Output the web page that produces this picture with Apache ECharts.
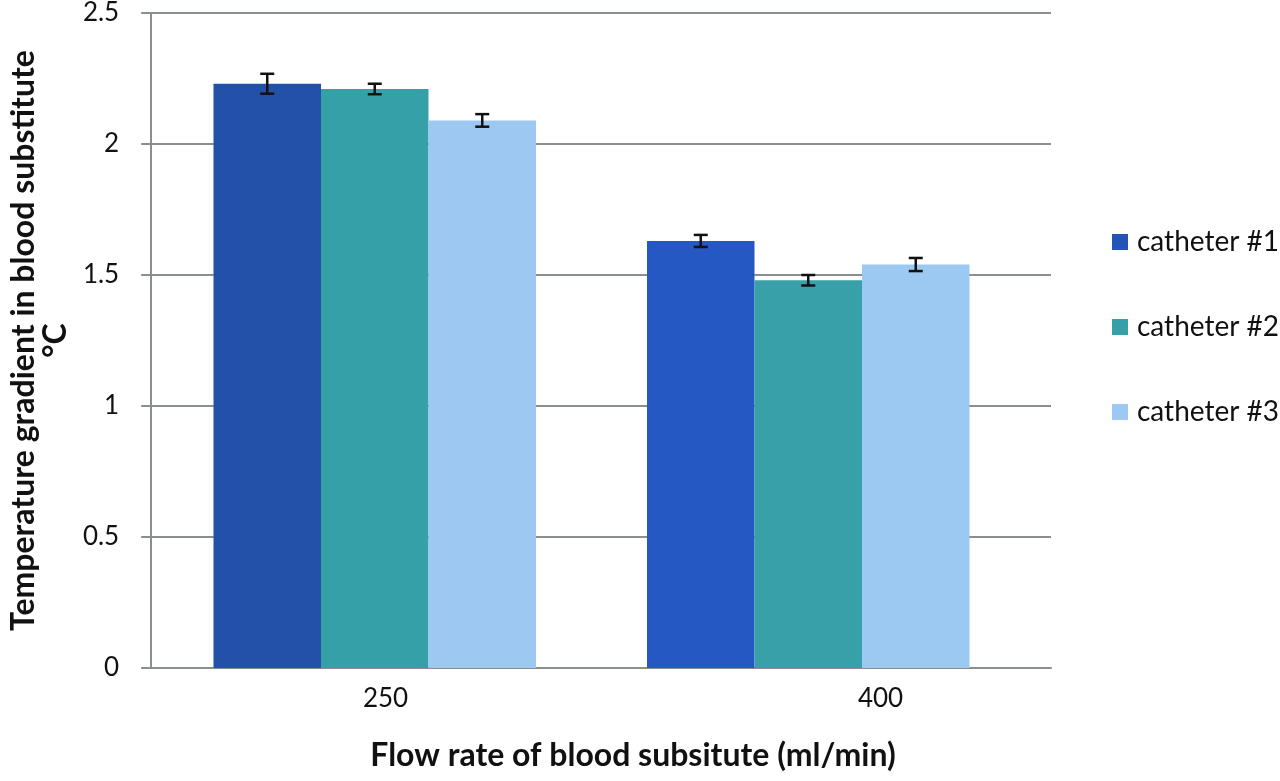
<!DOCTYPE html>
<html>
<head>
<meta charset="utf-8">
<script src="https://cdn.jsdelivr.net/npm/echarts@6/dist/echarts.min.js"></script>
<style>
html,body{margin:0;padding:0;background:#fff;}
#chart{width:1280px;height:781px;}
</style>
</head>
<body>
<div id="chart"></div>
<script>
// ---- data ----
var categories = ['250', '400'];
var seriesNames = ['catheter #1', 'catheter #2', 'catheter #3'];
var catheter1 = [2.23, 1.63];
var catheter2 = [2.21, 1.48];
var catheter3 = [2.09, 1.54];
var catheter1Err = [0.038, 0.023];
var catheter2Err = [0.020, 0.020];
var catheter3Err = [0.024, 0.025];
var yTicks = { min: 0, max: 2.5, interval: 0.5 };

// ---- style ----
var FONT = 'Lato';
var TXT = '#111111';
var GRAY = '#8a8e8e';
var barColors = [
  ['#2350a9', '#2558c3'],
  ['#36a0a8', '#37a0a9'],
  ['#9dc8f1', '#9cc9f2']
];
var legendColors = ['#2454b6', '#36a0a8', '#9dc8f1'];
var BAR_W = 107.5;

var values = [catheter1, catheter2, catheter3];
var errs = [catheter1Err, catheter2Err, catheter3Err];

var chart = echarts.init(document.getElementById('chart'), null, { renderer: 'canvas' });

var series = [];
values.forEach(function (vals, s) {
  series.push({
    name: seriesNames[s],
    type: 'bar',
    xAxisIndex: 1,
    yAxisIndex: 1,
    barWidth: BAR_W,
    barGap: 0,
    color: legendColors[s],
    data: vals.map(function (v, i) {
      return { value: v, itemStyle: { color: barColors[s][i] } };
    }),
    z: 2
  });
});
values.forEach(function (vals, s) {
  series.push({
    type: 'custom',
    xAxisIndex: 1,
    yAxisIndex: 1,
    z: 5,
    silent: true,
    data: vals.map(function (v, i) { return [i, v, errs[s][i]]; }),
    renderItem: (function (si) {
      return function (params, api) {
        var cat = api.value(0), v = api.value(1), e = api.value(2);
        var c = api.coord([cat, v]);
        var x = c[0] + (si - 1) * BAR_W;
        var yTop = api.coord([cat, v + e])[1];
        var yBot = api.coord([cat, v - e])[1];
        var hw = 7;
        var st = { stroke: '#111', lineWidth: 2.5 };
        return {
          type: 'group',
          children: [
            { type: 'line', shape: { x1: x, y1: yTop, x2: x, y2: yBot }, style: st },
            { type: 'line', shape: { x1: x - hw, y1: yTop, x2: x + hw, y2: yTop }, style: st },
            { type: 'line', shape: { x1: x - hw, y1: yBot, x2: x + hw, y2: yBot }, style: st }
          ]
        };
      };
    })(s)
  });
});

var option = {
  animation: false,
  backgroundColor: '#ffffff',
  textStyle: { fontFamily: FONT },
  grid: [
    { left: 132, right: 229, top: 13, bottom: 113 },
    { left: 158, right: 255, top: 13, bottom: 113 },
    { left: 138, right: 152, top: 13, bottom: 113 }
  ],
  legend: {
    orient: 'vertical',
    left: 1107,
    top: 222,
    itemWidth: 16,
    itemHeight: 16,
    itemGap: 55,
    icon: 'rect',
    data: seriesNames.map(function (n, i) {
      return { name: n, itemStyle: { color: legendColors[i] } };
    }),
    textStyle: { fontFamily: FONT, fontSize: 28, color: TXT, lineHeight: 30, padding: [0, 0, 0, 4] }
  },
  xAxis: [
    {
      gridIndex: 0, type: 'category', data: categories,
      axisLine: { show: true, lineStyle: { color: GRAY, width: 2 } },
      axisTick: { show: false }, axisLabel: { show: false }, splitLine: { show: false }
    },
    {
      gridIndex: 1, type: 'category', data: categories, show: false
    },
    {
      gridIndex: 2, type: 'category', data: categories,
      axisLine: { show: false }, axisTick: { show: false }, splitLine: { show: false },
      axisLabel: { show: true, fontFamily: FONT, fontSize: 26, color: TXT, margin: 18 },
      name: 'Flow rate of blood subsitute (ml/min)',
      nameLocation: 'middle',
      nameGap: 72,
      nameTextStyle: { fontFamily: FONT, fontSize: 32, fontWeight: 'bold', color: TXT }
    }
  ],
  yAxis: [
    {
      gridIndex: 0, type: 'value', min: yTicks.min, max: yTicks.max, interval: yTicks.interval,
      axisLine: { show: true, lineStyle: { color: GRAY, width: 2 } },
      axisTick: { show: true, length: 10, lineStyle: { color: GRAY, width: 2 } },
      splitLine: { show: true, lineStyle: { color: GRAY, width: 2 } },
      axisLabel: { fontFamily: FONT, fontSize: 26, color: TXT, margin: 32 },
      name: 'Temperature gradient in blood substitute\n°C',
      nameLocation: 'middle',
      nameRotate: 90,
      nameGap: 66,
      nameTextStyle: { fontFamily: FONT, fontSize: 32, fontWeight: 'bold', color: TXT, lineHeight: 32, align: 'center' }
    },
    { gridIndex: 1, type: 'value', min: yTicks.min, max: yTicks.max, interval: yTicks.interval, show: false, splitLine: { show: false } },
    { gridIndex: 2, type: 'value', min: yTicks.min, max: yTicks.max, interval: yTicks.interval, show: false, splitLine: { show: false } }
  ],
  series: series
};
chart.setOption(option);
</script>
</body>
</html>
